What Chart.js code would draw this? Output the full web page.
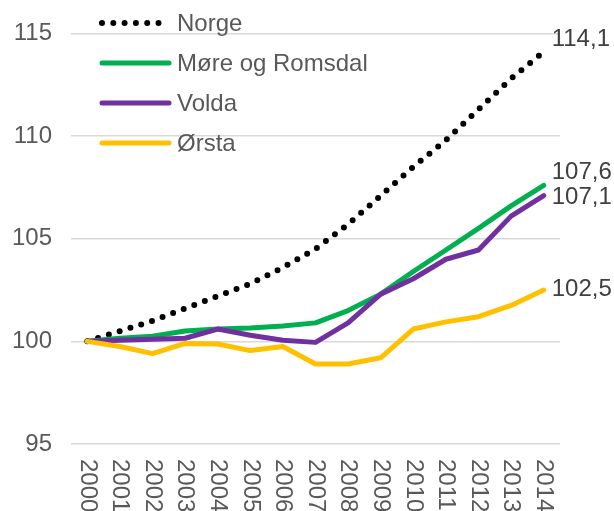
<!DOCTYPE html>
<html>
<head>
<meta charset="utf-8">
<script src="https://cdn.jsdelivr.net/npm/chart.js@4/dist/chart.umd.min.js"></script>
<style>
  html, body { margin: 0; padding: 0; background: #fff; }
  #wrap { width: 614px; height: 511px; position: relative; }
</style>
</head>
<body>
<div id="wrap"><canvas id="chart"></canvas></div>
<script>
const years = ['2000', '2001', '2002', '2003', '2004', '2005', '2006', '2007',
               '2008', '2009', '2010', '2011', '2012', '2013', '2014'];

const norge  = [100, 100.5, 101.0, 101.6, 102.2, 102.8, 103.6, 104.5, 105.7, 107.1, 108.5, 109.8, 111.3, 112.8, 114.1];
const more   = [100, 100.15, 100.25, 100.5, 100.6, 100.65, 100.75, 100.9, 101.5, 102.3, 103.4, 104.45, 105.5, 106.6, 107.6];
const volda  = [100, 100.05, 100.1, 100.15, 100.6, 100.3, 100.05, 99.95, 100.9, 102.3, 103.05, 104.0, 104.45, 106.1, 107.1];
const orsta  = [100, 99.75, 99.4, 99.9, 99.87, 99.55, 99.75, 98.9, 98.9, 99.2, 100.6, 100.95, 101.2, 101.75, 102.5];

const seriesNames = ['Norge', 'Møre og Romsdal', 'Volda', 'Ørsta'];
const yTicks = [95, 100, 105, 110, 115];

const colors = ['#000000', '#00B050', '#7030A0', '#FFC000'];
const endLabelShift = [-13, -13, 2, -1];
const FONT = '"Liberation Sans", Arial, sans-serif';

// legend drawn in top-left of the plot, like the original
const legendPlugin = {
    id: 'sideLegend',
    afterDatasetsDraw(chart) {
        const ctx = chart.ctx;
        ctx.save();
        ctx.font = '24px ' + FONT;
        ctx.textBaseline = 'middle';
        ctx.fillStyle = '#595959';
        chart.data.datasets.forEach((ds, i) => {
            const y = 23 + i * 40;
            ctx.beginPath();
            ctx.strokeStyle = ds.borderColor;
            ctx.lineWidth = ds.borderWidth;
            ctx.lineCap = 'round';
            ctx.setLineDash(ds.borderDash || []);
            ctx.moveTo(102, y);
            ctx.lineTo(169, y);
            ctx.stroke();
            ctx.setLineDash([]);
            ctx.fillText(ds.label, 177, y + 1);
        });
        ctx.restore();
    }
};

// values at the right end + rotated year labels
const labelPlugin = {
    id: 'labels',
    afterDraw(chart) {
        const ctx = chart.ctx;
        ctx.save();
        ctx.font = '24px ' + FONT;
        ctx.fillStyle = '#404040';
        ctx.textBaseline = 'middle';
        ctx.textAlign = 'left';
        chart.data.datasets.forEach((ds, i) => {
            const meta = chart.getDatasetMeta(i);
            const last = meta.data[meta.data.length - 1];
            const v = ds.data[ds.data.length - 1];
            ctx.fillText(v.toFixed(1).replace('.', ','), last.x + 8, last.y + endLabelShift[i]);
        });

        const xs = chart.scales.x;
        ctx.fillStyle = '#595959';
        years.forEach((yr, i) => {
            const x = xs.getPixelForValue(i);
            ctx.save();
            ctx.translate(x, 459);
            ctx.rotate(Math.PI / 2);
            ctx.fillText(yr, 0, 0);
            ctx.restore();
        });
        ctx.restore();
    }
};

const datasets = [norge, more, volda, orsta].map((d, i) => ({
    label: seriesNames[i],
    data: d,
    borderColor: colors[i],
    backgroundColor: colors[i],
    borderWidth: i === 0 ? 6 : 5,
    borderCapStyle: 'round',
    borderJoinStyle: 'round',
    borderDash: i === 0 ? [0, 11.3] : undefined,
    pointRadius: 0,
    tension: 0,
    order: 4 - i
}));

new Chart(document.getElementById('chart'), {
    type: 'line',
    data: { labels: years, datasets },
    options: {
        responsive: true,
        maintainAspectRatio: false,
        animation: false,
        layout: { padding: { top: 31, right: 54, bottom: 0, left: 0 } },
        plugins: {
            legend: { display: false },
            tooltip: { enabled: false }
        },
        scales: {
            x: {
                offset: true,
                grid: { display: false },
                border: { display: false },
                ticks: { display: false },
                afterFit: s => { s.height = 67; }
            },
            y: {
                min: 95,
                max: 115,
                afterBuildTicks: s => { s.ticks = yTicks.map(v => ({ value: v })); },
                afterFit: s => { s.width = 71; },
                grid: { color: '#D9D9D9', lineWidth: 1.5, drawTicks: false },
                border: { display: false },
                ticks: {
                    padding: 19,
                    color: '#595959',
                    font: { family: FONT, size: 24 }
                }
            }
        }
    },
    plugins: [legendPlugin, labelPlugin]
});
</script>
</body>
</html>
